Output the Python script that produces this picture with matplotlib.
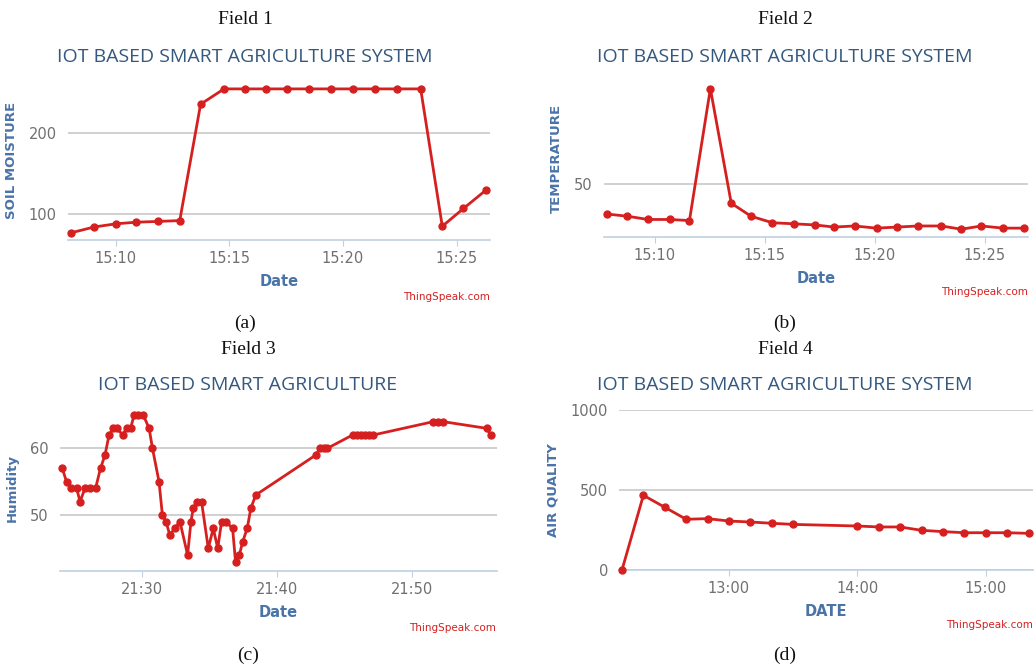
import matplotlib
matplotlib.use("Agg")
import matplotlib.pyplot as plt
import matplotlib.dates as mdates
import pandas as pd

# Field 1 - soil moisture
soil_times = ["15:08:03", "15:09:02", "15:10:00", "15:10:53", "15:11:52", "15:12:49",
              "15:13:44", "15:14:46", "15:15:41", "15:16:38", "15:17:33", "15:18:31",
              "15:19:28", "15:20:27", "15:21:25", "15:22:22", "15:23:25", "15:24:22",
              "15:25:18", "15:26:18"]
soil_values = [77, 84, 88, 90, 91, 92, 236, 255, 255, 255, 255, 255, 255, 255, 255,
               255, 255, 85, 107, 130]

# Field 2 - temperature
temp_times = ["15:07:51", "15:08:46", "15:09:42", "15:10:41", "15:11:35", "15:12:32",
              "15:13:29", "15:14:23", "15:15:21", "15:16:19", "15:17:16", "15:18:09",
              "15:19:05", "15:20:05", "15:21:02", "15:21:58", "15:23:02", "15:23:56",
              "15:24:51", "15:25:50", "15:26:46"]
temp_values = [36, 35, 33.5, 33.5, 33, 94, 41, 35, 32, 31.5, 31, 30, 30.5, 29.5, 30,
               30.5, 30.5, 29, 30.5, 29.5, 29.5]

# Field 3 - humidity
hum_times = ["21:24:06", "21:24:25", "21:24:47", "21:25:10", "21:25:25", "21:25:47",
             "21:26:09", "21:26:34", "21:26:56", "21:27:16", "21:27:34", "21:27:53",
             "21:28:10", "21:28:34", "21:28:52", "21:29:10", "21:29:25", "21:29:44",
             "21:30:06", "21:30:32", "21:30:47", "21:31:16", "21:31:31", "21:31:47",
             "21:32:04", "21:32:26", "21:32:49", "21:33:23", "21:33:38", "21:33:48",
             "21:34:07", "21:34:25", "21:34:55", "21:35:17", "21:35:37", "21:35:54",
             "21:36:13", "21:36:43", "21:36:56", "21:37:13", "21:37:28", "21:37:48",
             "21:38:04", "21:38:26", "21:42:53", "21:43:11", "21:43:30", "21:43:44",
             "21:45:36", "21:45:54", "21:46:12", "21:46:30", "21:46:48", "21:47:08",
             "21:51:35", "21:51:54", "21:52:19", "21:55:32", "21:55:50"]
hum_values = [57, 55, 54, 54, 52, 54, 54, 54, 57, 59, 62, 63, 63, 62, 63, 63, 65, 65,
              65, 63, 60, 55, 50, 49, 47, 48, 49, 44, 49, 51, 52, 52, 45, 48, 45, 49,
              49, 48, 43, 44, 46, 48, 51, 53, 59, 60, 60, 60, 62, 62, 62, 62, 62, 62,
              64, 64, 64, 63, 62]

# Field 4 - air quality
air_times = ["12:10", "12:20", "12:30", "12:40", "12:50", "13:00", "13:10", "13:20",
             "13:30", "14:00", "14:10", "14:20", "14:30", "14:40", "14:50", "15:00",
             "15:10", "15:20"]
air_values = [0, 467, 392, 317, 321, 306, 300, 292, 285, 275, 269, 269, 248, 240, 233,
              233, 233, 229]

W, H = 1036, 665
RED = "#d62020"
TITLE_C = "#34587e"
AXIS_C = "#4a73a8"
TICK_C = "#707070"


def t(s):
    return pd.to_datetime("2018-01-01 " + s)


def box(left, top, right, bottom):
    return [left / W, 1 - bottom / H, (right - left) / W, (bottom - top) / H]


fig = plt.figure(figsize=(W / 100, H / 100), dpi=100)
fig.patch.set_facecolor("white")


def panel(rect, times, values, xlim, ylim, yticks, xloc, ylabel, xlabel, title,
          cx, ty, field, fy, letter, ly, tsx, tsy):
    ax = fig.add_axes(rect)
    x = [t(s) for s in times]
    ax.plot(x, values, color=RED, lw=2, marker="o", ms=5, zorder=3, clip_on=False)
    ax.set_xlim(t(xlim[0]), t(xlim[1]))
    ax.set_ylim(*ylim)
    ax.set_yticks(yticks)
    ax.xaxis.set_major_locator(xloc)
    ax.xaxis.set_major_formatter(mdates.DateFormatter("%H:%M"))
    for s in ["top", "right", "left"]:
        ax.spines[s].set_visible(False)
    ax.spines["bottom"].set_color("#c0d0e0")
    ax.spines["bottom"].set_linewidth(1.2)
    ax.grid(axis="y", color="#c8c8c8", lw=1.2)
    ax.set_axisbelow(True)
    ax.tick_params(axis="y", length=0, labelsize=10.5, labelcolor=TICK_C, pad=8)
    ax.tick_params(axis="x", length=4, color="#c0d0e0", labelsize=10.5,
                   labelcolor=TICK_C, pad=4)
    ax.set_ylabel(ylabel, color=AXIS_C, fontsize=9.5, fontweight="bold", labelpad=8)
    ax.set_xlabel(xlabel, color=AXIS_C, fontsize=10.5, fontweight="bold", labelpad=6)
    fig.text(cx / W, 1 - ty / H, title, ha="center", va="center", color=TITLE_C,
             fontsize=14, family="Open Sans")
    fig.text(cx / W, 1 - fy / H, field, ha="center", va="center", color="#111111",
             fontsize=14, family="Liberation Serif")
    fig.text(cx / W, 1 - ly / H, letter, ha="center", va="center", color="#111111",
             fontsize=14, family="Liberation Serif")
    fig.text(tsx / W, 1 - tsy / H, "ThingSpeak.com", ha="right", va="center",
             color=RED, fontsize=7.5)
    return ax


panel(box(68, 80, 490, 240), soil_times, soil_values,
      ("15:07:54", "15:26:28"), (68, 266), [100, 200],
      mdates.MinuteLocator(byminute=[10, 15, 20, 25]),
      "SOIL MOISTURE", "Date", "IOT BASED SMART AGRICULTURE SYSTEM",
      245, 57, "Field 1", 20, "(a)", 323, 490, 297)

panel(box(604, 80, 1028, 237), temp_times, temp_values,
      ("15:07:42", "15:26:58"), (25.4, 98), [50],
      mdates.MinuteLocator(byminute=[10, 15, 20, 25]),
      "TEMPERATURE", "Date", "IOT BASED SMART AGRICULTURE SYSTEM",
      785, 57, "Field 2", 20, "(b)", 323, 1028, 292)

panel(box(60, 405, 497, 571), hum_times, hum_values,
      ("21:23:56", "21:56:18"), (41.6, 66.5), [50, 60],
      mdates.MinuteLocator(byminute=[30, 40, 50]),
      "Humidity", "Date", "IOT BASED SMART AGRICULTURE",
      248, 385, "Field 3", 350, "(c)", 655, 496, 628)

panel(box(619, 410, 1033, 570), air_times, air_values,
      ("12:08:36", "15:22:06"), (0, 1000), [0, 500, 1000],
      mdates.HourLocator(),
      "AIR QUALITY", "DATE", "IOT BASED SMART AGRICULTURE SYSTEM",
      785, 385, "Field 4", 350, "(d)", 655, 1033, 625)

plt.savefig("out.png", dpi=100)
